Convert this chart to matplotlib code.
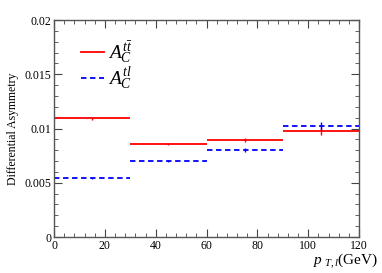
import matplotlib
matplotlib.use("Agg")
import matplotlib.pyplot as plt
from matplotlib.ticker import MultipleLocator
from matplotlib.lines import Line2D

bin_edges = [0, 30, 60, 90, 120]
centers = [15, 45, 75, 105]
actt = [0.01094, 0.00857, 0.00894, 0.00977]
actt_err = [0.00012, 0.00010, 0.00020, 0.00037]
actl = [0.00544, 0.00700, 0.00802, 0.01023]
actl_err = [0.00008, 0.00008, 0.00015, 0.00037]

plt.rcParams['font.family'] = ['Liberation Serif', 'DejaVu Serif']
plt.rcParams['mathtext.fontset'] = 'custom'
plt.rcParams['mathtext.rm'] = 'Liberation Serif'
plt.rcParams['mathtext.it'] = 'Liberation Serif:italic'

fig = plt.figure(figsize=(3.82, 2.73), dpi=100)
ax = fig.add_axes([54/382, 1-237/273, 305/382, 217/273])

red = '#ff0000'
blue = '#0000ff'
ax.hlines(actt, bin_edges[:-1], bin_edges[1:], color=red, lw=1.3)
ax.errorbar(centers, actt, yerr=actt_err, fmt='none', ecolor=red, elinewidth=1.0)
ax.hlines(actl, bin_edges[:-1], bin_edges[1:], color=blue, lw=1.3, linestyles=(0, (3, 2)))
ax.errorbar(centers, actl, yerr=actl_err, fmt='none', ecolor=blue, elinewidth=1.0)

ax.set_xlim(0, 120)
ax.set_ylim(0, 0.02)
ax.xaxis.set_major_locator(MultipleLocator(20))
ax.xaxis.set_minor_locator(MultipleLocator(4))
ax.yaxis.set_major_locator(MultipleLocator(0.005))
ax.yaxis.set_minor_locator(MultipleLocator(0.001))
ax.set_yticks([0, 0.005, 0.01, 0.015, 0.02])
ax.set_yticklabels(['0', '0.005', '0.01', '0.015', '0.02'])
ax.tick_params(which='both', direction='in', top=True, right=True, labelsize=8.5, color='#444444', pad=2)
ax.tick_params(which='major', length=6)
ax.tick_params(which='minor', length=3)
for s in ax.spines.values():
    s.set_color('#555555')
    s.set_linewidth(1.0)

ax.set_ylabel('Differential Asymmetry', fontsize=8.5, labelpad=4)
fig.text(378/382, 1-264/273, r'$p_{\ T,l}$(GeV)', ha='right', va='baseline', fontsize=11)

h1 = Line2D([], [], color=red, lw=1.3)
h2 = Line2D([], [], color=blue, lw=1.3, ls=(0, (3, 2)))
leg = ax.legend([h1, h2], [r'$A_C^{t\bar{t}}$', r'$A_C^{tl}$'], loc='upper left',
                bbox_to_anchor=(0.03, 0.99), frameon=False, fontsize=14,
                handlelength=1.2, handletextpad=0.2, labelspacing=0.0)

fig.savefig('out.png', dpi=100)
